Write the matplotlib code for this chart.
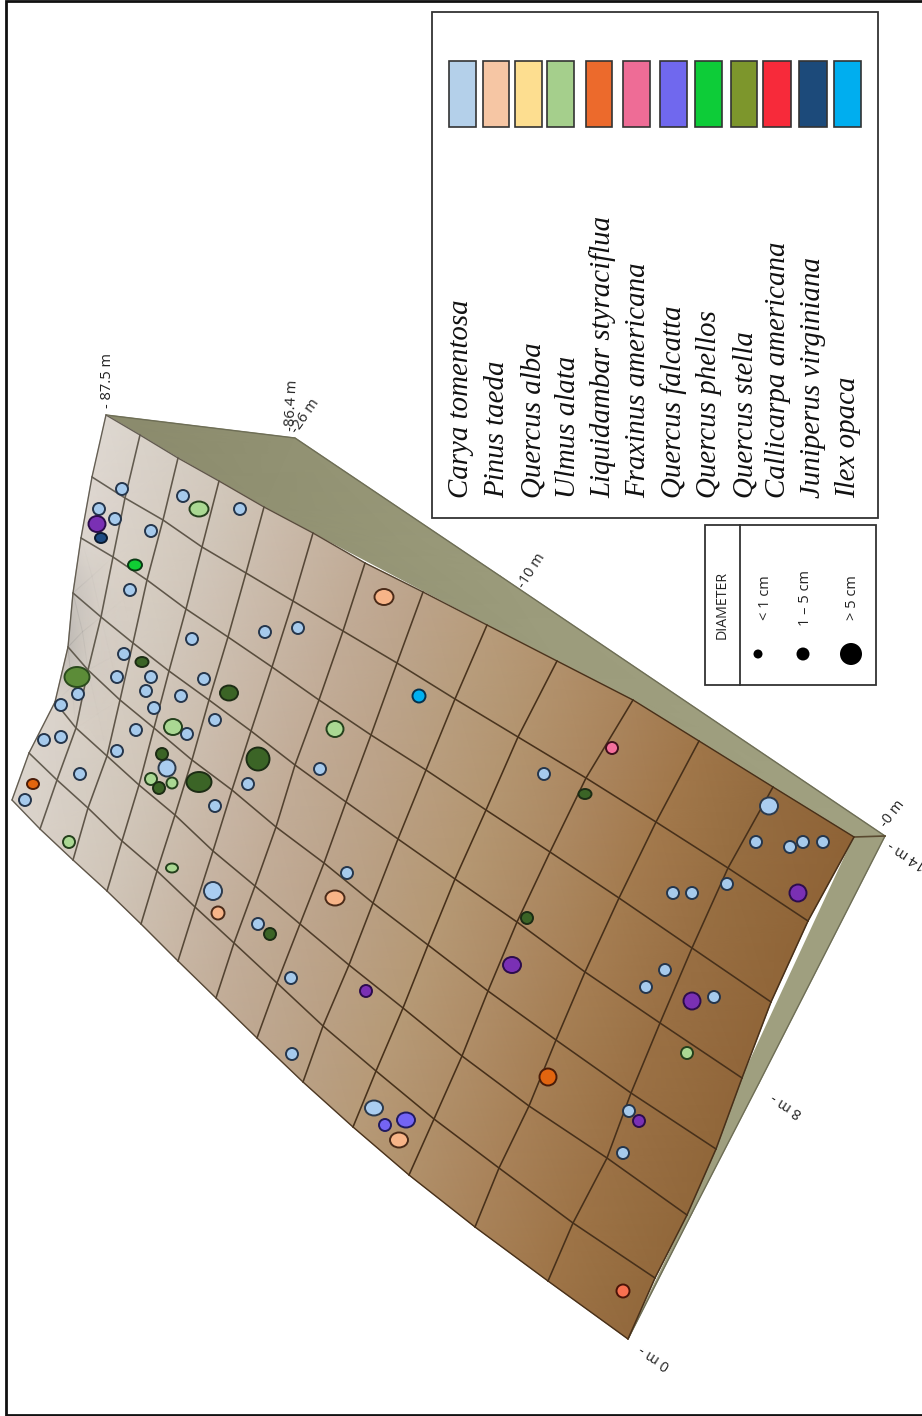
import matplotlib
matplotlib.use("Agg")
import numpy as np
import matplotlib.pyplot as plt
from matplotlib.colors import LinearSegmentedColormap
from matplotlib.patches import Ellipse, Rectangle

# ---- surface grid (rows j, columns i), image pixels
grid_x = [
    [106,140,178,219,264,313,365,423,487,557,633,699,773,854],
    [92,125,163,202,246,293,343,397,455,518,586,656,728,808],
    [81,113,147,186,228,272,319,371,426,486,550,619,692,771],
    [73,101,133,169,209,251,295,346,398,455,517,585,660,742],
    [68,88,120,154,192,232,276,324,373,428,488,556,631,716],
    [55,76,107,139,175,213,255,300,349,403,462,529,607,687],
    [29,57,88,122,157,195,234,277,323,376,434,499,573,655],
    [12,40,73,107,141,178,216,257,303,353,409,475,548,628],
]
grid_y = [
    [415,435,458,481,507,533,563,592,625,661,700,741,787,837],
    [477,498,520,547,573,601,631,663,699,737,778,822,868,921],
    [538,557,580,609,637,667,700,735,770,810,852,898,948,1002],
    [593,617,643,671,700,731,765,802,839,879,922,972,1023,1078],
    [647,670,700,728,760,790,827,863,903,945,991,1040,1093,1149],
    [702,728,756,785,815,851,886,924,965,1008,1056,1106,1158,1215],
    [753,780,808,841,871,907,943,983,1026,1071,1119,1168,1223,1278],
    [800,829,860,891,924,961,998,1038,1082,1127,1175,1227,1281,1339],
]
back_wall_x = [[106,295,500,885],[106,264,557,854]]
back_wall_y = [[415,438,576,836],[415,507,661,837]]
side_wall_x = [[885,759,692,628],[854,742,688,628]]
side_wall_y = [[836,1083,1213,1339],[837,1078,1214,1339]]

# ---- trees: x, y, width, height (image pixels)
carya_x = [122,99,115,151,183,240,130,192,265,298,124,117,151,146,181,204,154,78,61,44,61,136,215,187,117,80,25,248,215,320,347,258,291,292,544,756,790,803,823,727,673,692,665,646,714,629,623]
carya_y = [489,509,519,531,496,509,590,639,632,628,654,677,677,691,696,679,708,694,705,740,737,730,720,734,751,774,800,784,806,769,873,924,978,1054,774,842,847,842,842,884,893,893,970,987,997,1111,1153]
carya_big_x = [167,213,374,769]
carya_big_y = [768,891,1108,806]
carya_big_w = [17,18,18,18]
carya_big_h = [17,18,15,17]
pinus_x = [384,335,218,399]
pinus_y = [597,898,913,1140]
pinus_w = [19,19,13,18]
pinus_h = [16,15,13,15]
ulmus_x = [199,173,335,151,172,69,172,687]
ulmus_y = [509,727,729,779,783,842,868,1053]
ulmus_w = [19,18,17,12,11,12,12,12]
ulmus_h = [15,16,16,12,11,12,9,12]
stella_x = [142,229,258,199,162,159,270,585,527]
stella_y = [662,693,759,782,754,788,934,794,918]
stella_w = [13,18,23,25,12,12,12,13,12]
stella_h = [10,15,23,20,12,12,12,10,12]
stella_big_x = [77]
stella_big_y = [677]
stella_big_w = [25]
stella_big_h = [20]
purple_x = [97,366,512,692,798,639]
purple_y = [524,991,965,1001,893,1121]
purple_w = [17,12,18,17,17,12]
purple_h = [16,12,16,17,17,12]
falcata_x = [385,406]
falcata_y = [1125,1120]
falcata_w = [12,18]
falcata_h = [12,15]
liquidambar_x = [33,548]
liquidambar_y = [784,1077]
liquidambar_w = [12,17]
liquidambar_h = [10,17]
fraxinus_pt = [612,748,12,12]
phellos_pt = [135,565,14,11]
juniperus_pt = [101,538,12,10]
ilex_pt = [419,696,13,13]
callicarpa_pt = [623,1291,13,13]

# ---- legend
species = ["Carya tomentosa","Pinus taeda","Quercus alba","Ulmus alata","Liquidambar styraciflua",
           "Fraxinus americana","Quercus falcatta","Quercus phellos","Quercus stella",
           "Callicarpa americana","Juniperus virginiana","Ilex opaca"]
swatch_colors = ["#b4d0ea","#f6c6a4","#fdde90","#a5cf8c","#ec6a2c","#ee6c96","#7068ee","#0dcc38",
                 "#7d962c","#f72a3a","#1c4a7a","#00aeef"]
swatch_left = [449,483,515,547,586,623,660,695,731,763,799,834]
swatch_right = [476,509,542,574,612,650,687,722,757,791,827,861]
label_base = [468,504,540,575,610,645,681,716,752,785,820,855]
diam_labels = ["< 1 cm","1 – 5 cm","> 5 cm"]
diam_x = [758,803,851]
diam_size = [9,13,22]
diam_text_x = [765,805,852]

fig = plt.figure(figsize=(9.22,14.16), dpi=100)
ax = fig.add_axes([0,0,1,1])
ax.set_xlim(0,922); ax.set_ylim(1416,0); ax.axis("off")

X = np.array(grid_x,float); Y = np.array(grid_y,float)

wall_cmap = LinearSegmentedColormap.from_list("w",["#8a8a6c","#9b9b7b","#a0a080"])
bx=np.array(back_wall_x,float); by=np.array(back_wall_y,float)
ax.pcolormesh(bx,by,bx,shading="gouraud",cmap=wall_cmap,vmin=100,vmax=885,zorder=1)
sx=np.array(side_wall_x,float); sy=np.array(side_wall_y,float)
ax.pcolormesh(sx,sy,np.full_like(sx,800),shading="gouraud",cmap=wall_cmap,vmin=100,vmax=885,zorder=1)
ax.plot(bx[0],by[0],color="#6e6e56",lw=1,zorder=1.5)
ax.plot(sx[0],sy[0],color="#6e6e56",lw=1,zorder=1.5)
ax.plot([sx[1][0],sx[0][0]],[sy[1][0],sy[0][0]],color="#5a4a30",lw=1.2,zorder=1.5)

stops=[(0,"#e0dad4"),(150,"#d2c8bc"),(300,"#c3ae9a"),(400,"#bba288"),(500,"#b69975"),
       (600,"#ad8962"),(700,"#a2784b"),(800,"#946b3f"),(900,"#8f6336")]
surf_cmap = LinearSegmentedColormap.from_list("s",[(a/900,c) for a,c in stops])
C = X + 0.3*(Y-700)
ax.pcolormesh(X,Y,C,shading="gouraud",cmap=surf_cmap,vmin=0,vmax=900,zorder=2)

# grey fold of the slope
fold_cmap = LinearSegmentedColormap.from_list("f",[(0.5,0.5,0.5,0.0),(0.5,0.5,0.5,0.3)])
ax.pcolormesh(X[2:6,:3],Y[2:6,:3],np.array([[0,0,0],[.7,0.1,0],[1,0.2,0],[0,0,0]]),
              shading="gouraud",cmap=fold_cmap,vmin=0,vmax=1,zorder=2.1)

def seg(xs,ys,lw=1.15,z=3):
    xs=np.asarray(xs);ys=np.asarray(ys)
    for k in range(len(xs)-1):
        t=min(1,(xs[k]+0.3*(ys[k]-700))/500)
        col=np.array([0.40,0.38,0.34])*(1-t)+np.array([0.28,0.19,0.10])*t
        ax.plot(xs[k:k+2],ys[k:k+2],color=col,lw=lw,zorder=z,solid_capstyle="round")
for j in range(1,7):
    seg(X[j],Y[j])
for i in range(1,13):
    seg(X[:,i],Y[:,i])
seg(X[0],Y[0],1.0); seg(X[7],Y[7],1.0)
seg(X[:,0],Y[:,0],1.0); seg(X[:,13],Y[:,13],1.1)

def dots(xs,ys,ws,hs,face,edge):
    for x,y,w,h in zip(xs,ys,ws,hs):
        ax.add_patch(Ellipse((x,y),w,h,facecolor=face,edgecolor=edge,lw=1.4,zorder=5))
dots(carya_x,carya_y,[12]*len(carya_x),[12]*len(carya_x),"#a6caec","#25364c")
dots(carya_big_x,carya_big_y,carya_big_w,carya_big_h,"#aacdf0","#2c3a4c")
dots(pinus_x,pinus_y,pinus_w,pinus_h,"#f7b488","#4a2a18")
dots(ulmus_x,ulmus_y,ulmus_w,ulmus_h,"#aad893","#24401c")
dots(stella_x,stella_y,stella_w,stella_h,"#3b6426","#1c2c14")
dots(stella_big_x,stella_big_y,stella_big_w,stella_big_h,"#5c8c38","#2a4a1c")
dots(purple_x,purple_y,purple_w,purple_h,"#7a30b4","#2c0c4c")
dots(falcata_x,falcata_y,falcata_w,falcata_h,"#7464f4","#201a60")
dots(liquidambar_x,liquidambar_y,liquidambar_w,liquidambar_h,"#e2650f","#4a1c08")
for pt,f,e in [(fraxinus_pt,"#f4709c","#40101c"),(phellos_pt,"#10cc34","#0a3a14"),
               (juniperus_pt,"#1e4c84","#0a1a30"),(ilex_pt,"#00b0f0","#04304c"),
               (callicarpa_pt,"#f87050","#4a1408")]:
    dots([pt[0]],[pt[1]],[pt[2]],[pt[3]],f,e)

# axis labels
axtxt = dict(family="Open Sans", color="#222222", zorder=6, ha="center", va="center",
             rotation_mode="anchor", fontsize=10.5, clip_on=True)
ax.text(107,381,"- 87.5 m",rotation=90,**axtxt)
ax.text(292,405,"-86.4 m",rotation=87,**axtxt)
ax.text(305,416,"-26 m",rotation=55,**axtxt)
ax.text(532,571,"-10 m",rotation=57,**axtxt)
ax.text(893,814,"-0 m",rotation=52,**axtxt)
ax.text(907,855,"14 m -",rotation=148,**axtxt)
ax.text(787,1105,"8 m -",rotation=148,**axtxt)
ax.text(655,1357,"0 m -",rotation=148,**axtxt)

# species legend
ax.add_patch(Rectangle((431.5,12),446.5,506,fill=False,ec="#333333",lw=1.3,zorder=6))
for n,c,l,r,b in zip(species,swatch_colors,swatch_left,swatch_right,label_base):
    ax.add_patch(Rectangle((l,61),r-l,66,fc=c,ec="#333333",lw=1.2,zorder=6))
    ax.text(b,498,n,rotation=90,ha="left",va="baseline",rotation_mode="anchor",
            family="Liberation Serif",style="italic",fontsize=20.8,color="#111111",zorder=6)

# diameter legend
ax.add_patch(Rectangle((704.5,525),171.5,160,fill=False,ec="#333333",lw=1.3,zorder=6))
ax.plot([740,740],[525,685],color="#333333",lw=1.3,zorder=6)
ax.text(722,605,"DIAMETER",rotation=90,ha="center",va="center",family="Open Sans",fontsize=10.2,color="#222222",zorder=6)
for l,x,s,t in zip(diam_labels,diam_x,diam_size,diam_text_x):
    ax.add_patch(Ellipse((x,654),s,s,fc="black",ec="none",zorder=6))
    ax.text(t,598,l,rotation=90,ha="center",va="center",family="Open Sans",fontsize=10.5,color="#222222",zorder=6)

# frame: left, top and bottom rules only
ax.plot([922,5.5,5.5,922],[1,1,1415,1415],color="#111111",lw=2,zorder=7,solid_joinstyle="miter")

fig.savefig("out.png",dpi=100)
